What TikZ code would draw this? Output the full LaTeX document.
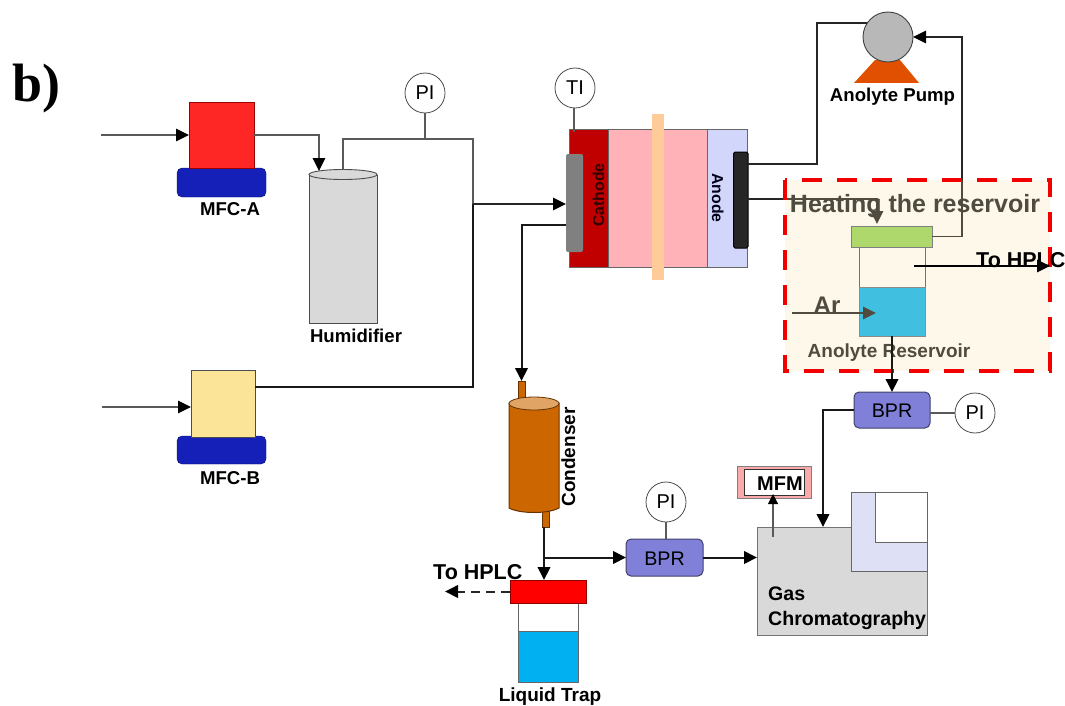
\documentclass[tikz,border=0pt]{standalone}
\usepackage{fontspec}
\setmainfont{Liberation Sans}
\newfontfamily\serifb{Liberation Serif}[BoldFont={Liberation Serif Bold}]
\usetikzlibrary{arrows.meta,shapes.geometric,calc}
\definecolor{dk}{HTML}{4F4B3F}
\definecolor{cream}{HTML}{FDF8EA}
\definecolor{mfcblue}{HTML}{1420B8}
\definecolor{bprc}{HTML}{8080D8}
\definecolor{copper}{HTML}{CC6600}
\definecolor{grayfill}{HTML}{D9D9D9}
\newcommand{\bx}[7][]{%
  \pgfmathsetmacro\bw{#5-#3}\pgfmathsetmacro\bh{#6-#4}%
  \pgfmathsetmacro\bcx{(#3+#5)/2}\pgfmathsetmacro\bcy{(#4+#6)/2}%
  \node[rectangle,inner sep=0pt,outer sep=0pt,minimum width=\bw pt,minimum height=\bh pt,#1] (#2) at (\bcx,\bcy) {#7};}
\tikzset{
  shp/.style={draw=#1!60!black,line width=0.9pt},
  shp/.default=black,
  thin line/.style={line width=1.1pt,draw=black!65},
  mid line/.style={line width=1.6pt,draw=black!85},
  thick line/.style={line width=2pt,draw=black!90},
  tip/.style={-{Triangle[length=13pt,width=12.5pt,black]}},
  tipd/.style={-{Triangle[length=13pt,width=12.5pt,dk]}},
  lbl/.style={font=\fontsize{18.6}{20}\selectfont\bfseries,anchor=base,inner sep=0pt},
  gauge/.style={circle,draw=black!70,fill=white,line width=0.8pt,minimum size=40pt,inner sep=0pt,font=\fontsize{20}{22}\selectfont},
  bprbox/.style={fill=bprc,draw=black!50!bprc,line width=1pt,rounded corners=5pt,font=\fontsize{19.7}{22}\selectfont}
}
\begin{document}
\begin{tikzpicture}[x=1pt,y=-1pt]
\useasboundingbox (0,0) rectangle (1065,706);
\node[font=\serifb\fontsize{54}{56}\selectfont\bfseries,anchor=base west,inner sep=0pt] (blabel) at (12,102) {b)};
% MFC A
\bx[fill=mfcblue,draw=black!50!mfcblue,rounded corners=5pt]{mfcabase}{177}{168}{266}{197}{}
\bx[fill=red!85!white,shp=red]{mfca}{189}{102}{254}{168}{}
\node[lbl] (mfcalabel) at (230,215) {MFC-A};
\coordinate (inA) at (101,135);
% MFC B
\bx[fill=mfcblue,draw=black!50!mfcblue,rounded corners=5pt]{mfcbbase}{177}{436}{266}{464}{}
\bx[fill={rgb,255:red,251;green,227;blue,152},draw=black!70]{mfcb}{191}{370}{255}{437}{}
\node[lbl] (mfcblabel) at (230,484) {MFC-B};
\coordinate (inB) at (102,407);
% Humidifier
\bx[fill=grayfill,draw=black!70,line width=0.9pt]{hum}{309}{175}{377}{323}{}
\node[ellipse,fill=grayfill,draw=black!70,line width=0.9pt,minimum width=68pt,minimum height=10pt,inner sep=0pt,outer sep=0pt] (humtop) at (343,174.5) {};
\node[lbl] (humlabel) at (356,342) {Humidifier};
\node[gauge] (pia) at (425,93) {PI};
\coordinate (jtop) at (473,139);
\coordinate (jc) at (473,204);
% Cell
\bx[fill={rgb,255:red,192;green,0;blue,0},draw=black!60]{cath}{569}{129}{608}{267}{}
\bx[fill={rgb,255:red,255;green,179;blue,184},draw=black!60]{flow}{608}{129}{707}{267}{}
\bx[fill={rgb,255:red,210;green,214;blue,250},draw=black!60]{anode}{707}{129}{747}{267}{}
\bx[fill={rgb,255:red,255;green,204;blue,153}]{memb}{652}{114}{664}{280}{}
\bx[fill=black!50,rounded corners=2pt]{gray}{566}{154}{583}{252}{}
\bx[fill=black!85,draw=black,line width=1pt,rounded corners=1.5pt]{blk}{733.5}{152}{748}{248}{}
\node[lbl,font=\fontsize{15.8}{18}\selectfont\bfseries,rotate=90,text=black!80!red] (cathlabel) at (604,195) {Cathode};
\node[lbl,font=\fontsize{15.8}{18}\selectfont\bfseries,rotate=-90,text=black!90!blue] (anodelabel) at (712,198) {Anode};
\node[gauge] (ti) at (575,88) {TI};
% Pump
\fill[fill={rgb,255:red,224;green,80;blue,0}] (854,83) -- (875,60) -- (900,60) -- (919,83) -- cycle;
\node[circle,fill=black!28,draw=black!75,line width=0.9pt,minimum size=50pt,inner sep=0pt,outer sep=0pt] (pump) at (888,37) {};
\node[lbl] (pumplabel) at (892.5,102) {Anolyte Pump};
% Black parts under the heated box
\coordinate (bendP) at (817,164);
\coordinate (edgeH) at (785,199);
\coordinate (retEdge) at (962,180);
\draw[mid line] ([yshift=36pt]blk.east) -- (bendP) |- (pump.146);
\draw[mid line,tip] (retEdge) |- (pump.east);
\draw[mid line] (blk.west |- edgeH) -- (edgeH);
% Heated box
\bx[fill=cream]{heat}{785}{180}{1050}{371}{}
\coordinate (arEnd) at (792,313);
\coordinate (bendH) at (877,199);
% Reservoir
\bx[fill=cream,draw=black!55,line width=1pt]{bottle}{859}{247}{925}{287}{}
\bx[fill={rgb,255:red,64;green,191;blue,224},draw=black!45,line width=1pt]{liq}{859}{287}{925}{336}{}
\bx[fill={rgb,255:red,174;green,216;blue,108},draw=black!50,line width=1pt]{lid}{851}{226}{932}{247}{}
\draw[dk,line width=1.5pt,tipd] (edgeH) -- (bendH) -- ([xshift=-14.5pt,yshift=2pt]lid.north);
\draw[dk,line width=1.5pt] (lid.east) -| (retEdge);
\draw[dk,line width=1.5pt,tipd] (arEnd) -- ([xshift=-16pt,yshift=-1.5pt]liq.center);
\node[lbl,font=\fontsize{25}{27}\selectfont\bfseries,text=dk] (heatlabel) at (915,212) {Heating the reservoir};
\node[lbl,font=\fontsize{24}{26}\selectfont\bfseries,text=dk] (arlabel) at (827,313) {Ar};
\node[lbl,font=\fontsize{19}{21}\selectfont\bfseries,text=dk] (reslabel) at (889,357) {Anolyte Reservoir};
\draw[red!95!black,line width=4.5pt,dash pattern=on 20pt off 15pt] (heat.north west) rectangle (heat.south east);
\coordinate (hplcA) at (914,266);
\coordinate (hplcB) at (1050,266);
\node[lbl,font=\fontsize{21.5}{23}\selectfont\bfseries,anchor=base west] (hplcalabel) at (976,267) {To HPLC};
\draw[mid line,draw=black,tip] (hplcA) -- (hplcB);
% BPR 1
\bx[bprbox]{bpra}{854}{392}{930}{428}{}
\node[anchor=base,inner sep=0pt,font=\fontsize{19.7}{22}\selectfont] (bpratext) at (892,417) {BPR};
\node[gauge] (pib) at (975,413) {PI};
\draw[thin line] (bpra.east |- pib.west) -- (pib.west);
\draw[thick line,tip] (liq.south) -- (bpra.north);
% Condenser
\bx[fill=copper,draw=black!50!copper,line width=.8pt]{nipa}{518}{381}{525}{398}{}
\bx[fill=copper,draw=black!50!copper,line width=.8pt]{nipb}{542}{510}{549}{527}{}
\path[fill=copper,draw=black!50!copper,line width=1pt] (509,403) -- (509,508) .. controls (520,514) and (548,514) .. (559,508) -- (559,403) -- cycle;
\node[ellipse,fill={rgb,255:red,224;green,165;blue,100},draw=black!50!copper,line width=.8pt,minimum width=50pt,minimum height=13pt,inner sep=0pt,outer sep=0pt] (condtop) at (534,403.5) {};
\node[lbl,font=\fontsize{19}{21}\selectfont\bfseries,rotate=90] (condlabel) at (575,457) {Condenser};
% Liquid trap
\bx[fill=white,draw=black!60,line width=.9pt]{tbottle}{518}{603}{578}{631}{}
\bx[fill={rgb,255:red,0;green,176;blue,240},draw=black!60,line width=.9pt]{tliq}{518}{631}{578}{682}{}
\bx[fill=red,draw=black!45!red,line width=1pt]{tlid}{510}{580}{586}{603}{}
\node[lbl,font=\fontsize{19}{21}\selectfont\bfseries] (traplabel) at (550,701) {Liquid Trap};
\node[lbl,font=\fontsize{21.5}{23}\selectfont\bfseries,anchor=base west] (hplcblabel) at (433,579) {To HPLC};
\coordinate (dashEnd) at (445,591.5);
% BPR 2
\bx[bprbox]{bprb}{626}{539}{703}{576}{}
\node[anchor=base,inner sep=0pt,font=\fontsize{19.7}{22}\selectfont] (bprbtext) at (664.5,565) {BPR};
\node[gauge] (pic) at (666,502) {PI};
\draw[thin line] (pic.south) -- (pic.south |- bprb.north);
% GC
\bx[fill=grayfill,draw=black!55,line width=1pt]{gc}{757}{527}{927}{635}{}
\bx[fill={rgb,255:red,222;green,224;blue,245},draw=black!60,line width=1pt]{gcl}{851}{492}{927}{571}{}
\bx[fill=white,draw=black!60,line width=1pt]{gcw}{875}{492}{927}{542}{}
\node[lbl,font=\fontsize{19.6}{22}\selectfont\bfseries,anchor=base west] (gclabela) at (768,600) {Gas};
\node[lbl,font=\fontsize{19.6}{22}\selectfont\bfseries,anchor=base west] (gclabelb) at (768,625) {Chromatography};
% MFM
\bx[fill={rgb,255:red,250;green,170;blue,170},draw=black!50,line width=1pt]{mfmo}{737}{466}{811}{498}{}
\bx[fill=white,draw=black!80,line width=1pt]{mfmi}{744}{469}{804}{495}{}
\node[lbl,font=\fontsize{20}{22}\selectfont\bfseries] (mfmlabel) at (780,490) {MFM};
% Connectors
\draw[thin line,tip] (inA) -- (mfca.west);
\draw[thin line,tip] (inB) -- ([yshift=-3.5pt]mfcb.west);
\draw[thin line,tip] (mfca.east) -| ([xshift=-24pt,yshift=4pt]hum.north);
\draw[thin line] (humtop.north) |- (jtop) -- (jc);
\draw[thin line] (pia.south) -- (pia.south |- jtop);
\draw[thick line] ([yshift=16.5pt]mfcb.east) -| (jc);
\draw[mid line,tip] (jc) -- (gray.west |- jc);
\draw[thin line] ([xshift=-1pt]ti.south) -- ([xshift=-1pt,yshift=-3pt]ti.south |- cath.north);
\draw[thick line,tip] ([yshift=-22pt]gray.west) -| (nipa.north);
\draw[thick line,tip] ([xshift=-1.5pt]nipb.south) -- ([xshift=-1.5pt]nipb.south |- tlid.north);
\coordinate (jd) at (544,557.5);
\draw[thick line,tip] (jd) -- (bprb.west);
\draw[thick line,tip] (bprb.east) -- (bprb.east -| gc.west);
\draw[thick line,tip] (bpra.west) -| ([xshift=-19pt]gc.north);
\draw[thin line,-{Triangle[length=10pt,width=10pt,black]}] ([xshift=-69pt,yshift=-10pt]gc.north) -- ([yshift=4pt]mfmo.south -| {$(gc.north)+(-69,0)$});
\draw[line width=2pt,draw=black!85,dash pattern=on 9pt off 6pt,tip] (tlid.west) -- (dashEnd);
\end{tikzpicture}
\end{document}
